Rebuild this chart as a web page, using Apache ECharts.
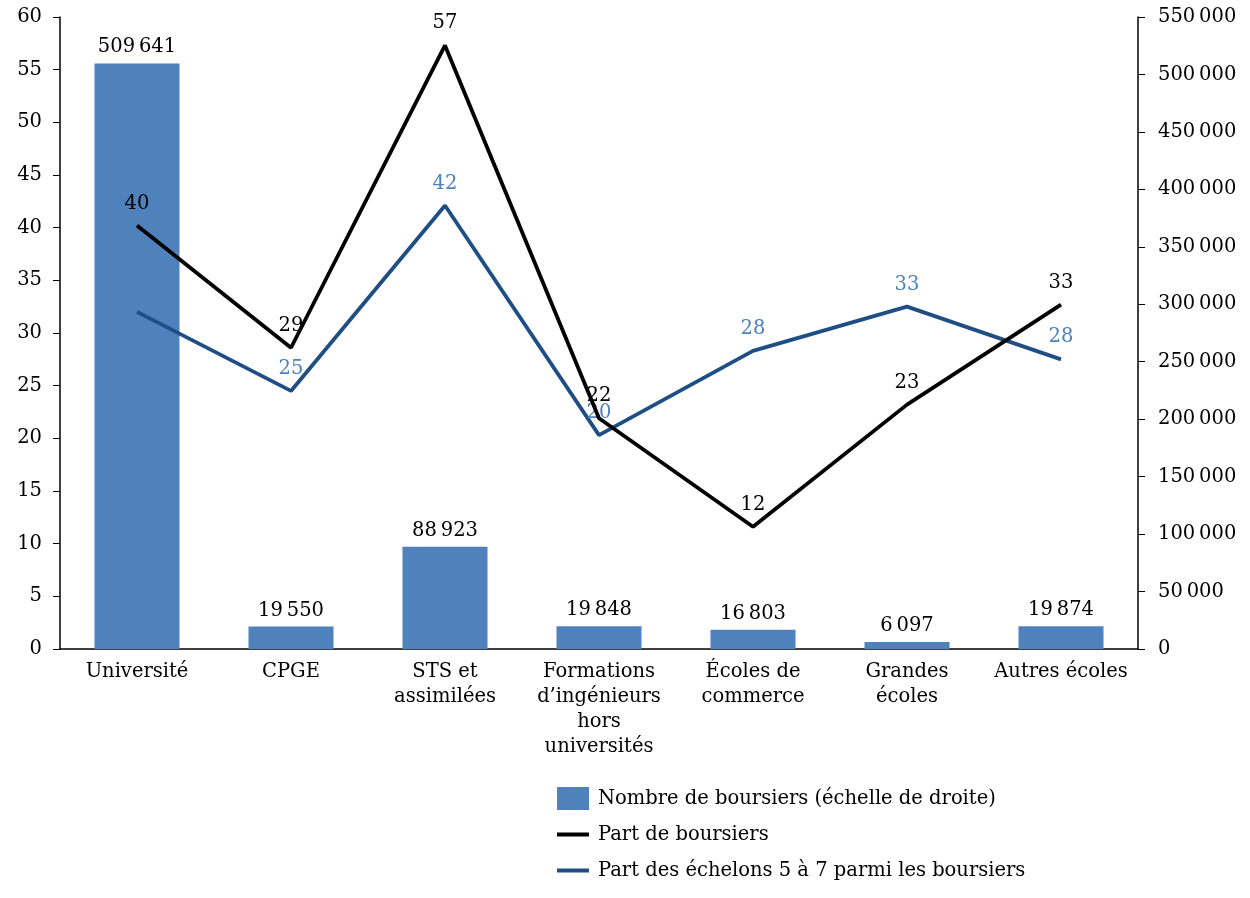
<!DOCTYPE html>
<html><head><meta charset="utf-8">
<script src="https://cdn.jsdelivr.net/npm/echarts@6/dist/echarts.min.js"></script>
<style>html,body{margin:0;padding:0;background:#fff}#c{width:1250px;height:898px}</style>
</head><body><div id="c"></div>
<script>
const categories = ['Université','CPGE','STS et\nassimilées','Formations\nd\u2019ingénieurs\nhors\nuniversités','Écoles de\ncommerce','Grandes\nécoles','Autres écoles'];
const nbBoursiers = [509641, 19550, 88923, 19848, 16803, 6097, 19874];
const partBoursiers = [40.2, 28.6, 57.3, 21.9, 11.6, 23.2, 32.7];
const partEchelons = [32.0, 24.5, 42.1, 20.3, 28.3, 32.5, 27.5];
const leftTicks = {min: 0, max: 60, interval: 5};
const rightTicks = {min: 0, max: 550000, interval: 50000};

const FONT = 'DejaVu Serif';
const FS = 19.5;
const fmtThousands = v => String(v).replace(/\B(?=(\d{3})+(?!\d))/g, '\u202F');
const lineIcon = 'path://M0,0 L32,0 L32,0.01 L0,0.01 Z M0,9.5 L32,9.5 L32,13.5 L0,13.5 Z M0,23 L32,23 L32,23.01 L0,23.01 Z';

const chart = echarts.init(document.getElementById('c'), null, {renderer: 'canvas'});
chart.setOption({
  animation: false,
  textStyle: {fontFamily: FONT},
  grid: {left: 60, right: 112, top: 17, bottom: 249, containLabel: false},
  legend: {
    orient: 'vertical', left: 557, top: 787, padding: 0,
    itemWidth: 32, itemHeight: 23, itemGap: 13,
    textStyle: {fontFamily: FONT, fontSize: FS, color: '#000', padding: [0, 0, 0, 4]},
    data: [
      {name: 'Nombre de boursiers (échelle de droite)', icon: 'rect'},
      {name: 'Part de boursiers', icon: lineIcon},
      {name: 'Part des échelons 5 à 7 parmi les boursiers', icon: lineIcon}
    ]
  },
  xAxis: {
    type: 'category', data: categories,
    axisLine: {lineStyle: {color: '#000', width: 1.5}},
    axisTick: {show: false},
    axisLabel: {fontFamily: FONT, fontSize: FS, color: '#000', lineHeight: 25, margin: 10, interval: 0}
  },
  yAxis: [
    {
      type: 'value', min: leftTicks.min, max: leftTicks.max, interval: leftTicks.interval,
      position: 'left',
      axisLine: {show: true, lineStyle: {color: '#000', width: 1.5}},
      axisTick: {show: true, length: 7, lineStyle: {color: '#000'}},
      splitLine: {show: false},
      axisLabel: {fontFamily: FONT, fontSize: FS, color: '#000', margin: 18}
    },
    {
      type: 'value', min: rightTicks.min, max: rightTicks.max, interval: rightTicks.interval,
      position: 'right',
      axisLine: {show: true, lineStyle: {color: '#000', width: 1.5}},
      axisTick: {show: true, length: 7, lineStyle: {color: '#000'}},
      splitLine: {show: false},
      axisLabel: {fontFamily: FONT, fontSize: FS, color: '#000', margin: 20, formatter: v => fmtThousands(v)}
    }
  ],
  series: [
    {
      name: 'Nombre de boursiers (échelle de droite)', type: 'bar', yAxisIndex: 1,
      data: nbBoursiers, barWidth: 85,
      itemStyle: {color: '#4F81BD'},
      label: {show: true, position: 'top', distance: 6, fontFamily: FONT, fontSize: FS, color: '#000',
        formatter: p => fmtThousands(p.value)},
      z: 1
    },
    {
      name: 'Part de boursiers', type: 'line', yAxisIndex: 0,
      data: partBoursiers, symbol: 'circle', symbolSize: 0.01, showSymbol: true,
      lineStyle: {color: '#000', width: 3.8}, itemStyle: {color: '#000'},
      label: {show: true, position: 'top', distance: 12, fontFamily: FONT, fontSize: FS, color: '#000',
        formatter: p => Math.round(p.value)},
      z: 4
    },
    {
      name: 'Part des échelons 5 à 7 parmi les boursiers', type: 'line', yAxisIndex: 0,
      data: partEchelons, symbol: 'circle', symbolSize: 0.01, showSymbol: true,
      lineStyle: {color: '#1F4E85', width: 3.8}, itemStyle: {color: '#1F4E85'},
      label: {show: true, position: 'top', distance: 12, fontFamily: FONT, fontSize: FS, color: '#4F81BD',
        formatter: p => Math.round(p.value)},
      z: 3
    }
  ]
});
</script></body></html>
